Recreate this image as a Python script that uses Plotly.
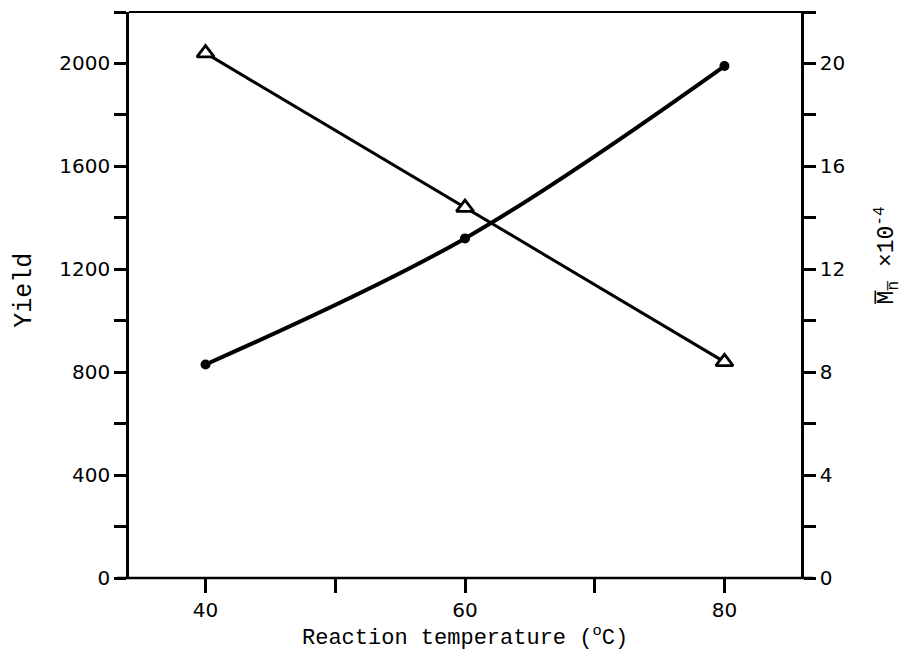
import plotly.graph_objects as go

# Data
temperature = [40, 60, 80]                 # Reaction temperature (°C)
yield_values = [830, 1320, 1990]           # Yield (left axis)
mn_values = [20.4, 14.4, 8.4]              # Mn x 10^-4 (right axis)

x_ticks = [40, 60, 80]
x_minor_ticks = [50, 70]
yield_ticks = [0, 400, 800, 1200, 1600, 2000]
mn_ticks = [0, 4, 8, 12, 16, 20]

TICK_FONT = dict(family="DejaVu Sans", size=20, color="black")
TITLE_FONT = dict(family="Liberation Mono", size=22, color="black")

fig = go.Figure()

fig.add_trace(go.Scatter(
    x=temperature, y=yield_values, mode="lines+markers", yaxis="y",
    line=dict(color="black", width=4, shape="spline"),
    marker=dict(symbol="circle", size=10, color="black"),
    name="Yield"))

fig.add_trace(go.Scatter(
    x=temperature, y=mn_values, mode="lines+markers", yaxis="y2",
    line=dict(color="black", width=3),
    marker=dict(symbol="triangle-up", size=15, color="white",
                line=dict(color="black", width=2.8)),
    name="Mn"))

axis_common = dict(showgrid=False, zeroline=False, ticks="outside",
                   tickcolor="black", tickwidth=2.5, tickfont=TICK_FONT)

# the page body adds an 8px offset, margins compensate for it
fig.update_layout(
    width=921, height=658,
    margin=dict(l=121, r=128, t=4, b=88),
    plot_bgcolor="white", paper_bgcolor="white",
    showlegend=False,
    xaxis=dict(range=[34.1, 85.9], tickvals=x_ticks, ticklen=14,
               showline=False,
               minor=dict(tickvals=x_minor_ticks, ticks="outside", ticklen=14,
                          tickwidth=2.5, tickcolor="black"),
               **axis_common),
    yaxis=dict(range=[0, 2200], tickvals=yield_ticks, ticklen=12,
               showline=True, linewidth=2.5, linecolor="black",
               minor=dict(dtick=200, ticks="outside", ticklen=12,
                          tickwidth=2.5, tickcolor="black"),
               **axis_common),
    yaxis2=dict(range=[0, 22], tickvals=mn_ticks, ticklen=12,
                overlaying="y", side="right",
                showline=True, linewidth=2.5, linecolor="black",
                minor=dict(dtick=2, ticks="outside", ticklen=12,
                           tickwidth=2.5, tickcolor="black"),
                **axis_common),
)

# frame lines (bottom extends slightly past both axes, top past the right axis)
fig.add_shape(type="line", xref="paper", yref="paper", x0=-0.018, x1=1.018,
              y0=0, y1=0, line=dict(color="black", width=2.5))
fig.add_shape(type="line", xref="paper", yref="paper", x0=0, x1=1.018,
              y0=1, y1=1, line=dict(color="black", width=2))

fig.add_annotation(text="Reaction temperature (<sup>o</sup>C)", xref="paper",
                   yref="paper", x=0.5, y=-0.104, showarrow=False,
                   xanchor="center", yanchor="middle", font=TITLE_FONT)
fig.add_annotation(text="Yield", xref="paper", yref="paper", x=-0.155, y=0.509,
                   showarrow=False, textangle=-90, xanchor="center",
                   yanchor="middle",
                   font=dict(family="Liberation Mono", size=25, color="black"))
fig.add_annotation(text="M\u0305<sub>n\u0305</sub> \u00d710<sup>-4</sup>",
                   xref="paper", yref="paper", x=1.128, y=0.57,
                   showarrow=False, textangle=-90, xanchor="center",
                   yanchor="middle",
                   font=dict(family="Liberation Mono", size=23, color="black"))

fig.write_html("out.html")
